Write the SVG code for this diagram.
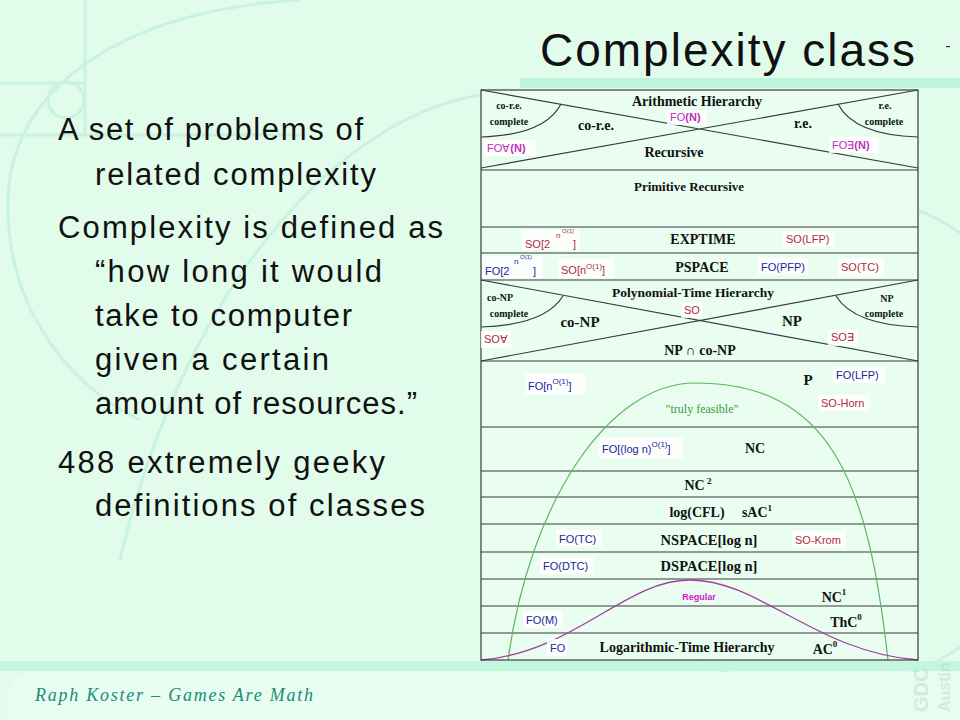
<svg xmlns="http://www.w3.org/2000/svg" width="960" height="720" viewBox="0 0 960 720">
<defs>
<style>
.deco{fill:none;stroke:#c8f3df;stroke-width:3}
.body{font-family:"Liberation Sans","DejaVu Sans",sans-serif;font-size:31px;fill:#111}
.grid{stroke:#3a3a3a;stroke-width:1.2;fill:none}
.blk{font-family:"Liberation Serif","DejaVu Serif",serif;font-weight:bold;fill:#111;text-anchor:middle}
.sm{font-family:"Liberation Serif","DejaVu Serif",serif;font-weight:bold;font-size:10px;fill:#111;text-anchor:middle}
.mag{font-family:"Liberation Sans",sans-serif;font-size:11px;fill:#c030b8}
.red{font-family:"Liberation Sans",sans-serif;font-size:11px;fill:#b02a3a}
.blu{font-family:"Liberation Sans",sans-serif;font-size:11px;fill:#25259a}
.s8{font-size:8px}
.s6{font-size:6px}
.pad{fill:#fff;opacity:0.85}
</style>
</defs>
<rect width="960" height="720" fill="#e2fcec"/>
<g id="decoration">
<path class="deco" d="M85,0 V135 M0,83 H85 M0,135 H300"/>
<circle class="deco" cx="66" cy="100" r="18"/>
<path class="deco" d="M300,0 C120,10 10,90 8,200 C6,300 60,380 140,420"/>
<path class="deco" d="M120,560 C180,300 330,120 480,95"/>
<circle class="deco" cx="820" cy="440" r="250" stroke-width="2"/>
<rect x="520" y="78" width="440" height="10" fill="#bff5dc"/>
<rect x="0" y="661" width="960" height="10" fill="#c4f6df"/>
<path d="M40,672 H960 V720 H8 V700 Q8,672 40,672 Z" fill="#e6fdef"/>
<text x="928" y="712" transform="rotate(-90 928 712)" font-family="Liberation Sans,sans-serif" font-weight="bold" font-size="20" fill="#b8c8c0" opacity="0.35">GDC</text>
<text x="950" y="712" transform="rotate(-90 950 712)" font-family="Liberation Sans,sans-serif" font-weight="bold" font-size="16" fill="#b8c8c0" opacity="0.35">Austin</text>
<rect x="946" y="46" width="4" height="1.2" fill="#333"/>
</g>
<g id="title">
<text x="540" y="66" font-family="Liberation Sans,sans-serif" font-size="46" fill="#111" textLength="375" lengthAdjust="spacing">Complexity class</text>
</g>
<g id="bullets">
<text class="body" x="58" y="140" textLength="305" lengthAdjust="spacing">A set of problems of</text>
<text class="body" x="95" y="185" textLength="281" lengthAdjust="spacing">related complexity</text>
<text class="body" x="58" y="238" textLength="385" lengthAdjust="spacing">Complexity is defined as</text>
<text class="body" x="95" y="282" textLength="287" lengthAdjust="spacing">“how long it would</text>
<text class="body" x="95" y="326" textLength="257" lengthAdjust="spacing">take to computer</text>
<text class="body" x="95" y="370" textLength="234" lengthAdjust="spacing">given a certain</text>
<text class="body" x="95" y="414" textLength="322" lengthAdjust="spacing">amount of resources.”</text>
<text class="body" x="58" y="473" textLength="327" lengthAdjust="spacing">488 extremely geeky</text>
<text class="body" x="95" y="516" textLength="330" lengthAdjust="spacing">definitions of classes</text>
</g>
<g id="footer">
<text x="35" y="701" font-family="Liberation Serif,serif" font-style="italic" font-size="18" fill="#1a8c7c" textLength="278" lengthAdjust="spacing">Raph Koster – Games Are Math</text>
</g>
<g id="diagram-frame">
<rect x="481" y="90" width="437" height="570" fill="#e9fdf1"/>
</g>
<g id="connectors">
<path class="grid" d="M481,90 L918,168 M918,90 L481,168"/>
<path class="grid" d="M481,137 Q545,135 561,104 M918,137 Q854,135 838,104"/>
<path class="grid" d="M481,280 L918,361 M918,280 L481,361"/>
<path class="grid" d="M481,327 Q545,325 563,296 M918,327 Q854,325 836,296"/>
<path class="grid" d="M481,170 H918 M481,227 H918 M481,253 H918 M481,280 H918 M481,361 H918 M481,427 H918 M481,471 H918 M481,497 H918 M481,524 H918 M481,552 H918 M481,579 H918 M481,606 H918 M481,633 H918"/>
<path d="M508,660 C530,500 610,383 695,383 C830,383 868,480 888,660" fill="none" stroke="#5cb85c" stroke-width="1.2"/>
<path d="M481,660 C575,652 625,580 690,580 C760,580 815,652 918,660" fill="none" stroke="#a040a0" stroke-width="1.3"/>
<rect class="grid" x="481" y="90" width="437" height="570"/>
</g>
<g id="arithmetic-hierarchy">
<text class="blk" x="697" y="106" font-size="14">Arithmetic Hierarchy</text>
<text class="sm" x="509" y="109">co-r.e.</text>
<text class="sm" x="509" y="125">complete</text>
<text class="blk" x="596" y="130" font-size="14">co-r.e.</text>
<rect class="pad" x="667" y="110" width="40" height="15"/>
<text class="mag" x="670" y="121">FO<tspan font-weight="bold">(N)</tspan></text>
<text class="blk" x="803" y="128" font-size="14">r.e.</text>
<text class="sm" x="885" y="109">r.e.</text>
<text class="sm" x="884" y="125">complete</text>
<rect class="pad" x="484" y="140" width="52" height="16"/>
<text class="mag" x="487" y="152">FO∀<tspan font-weight="bold">(N)</tspan></text>
<text class="blk" x="674" y="157" font-size="14">Recursive</text>
<rect class="pad" x="829" y="137" width="50" height="16"/>
<text class="mag" x="832" y="149">FO∃<tspan font-weight="bold">(N)</tspan></text>
</g>
<g id="primitive-recursive">
<text class="blk" x="689" y="191" font-size="13">Primitive Recursive</text>
</g>
<g id="exptime">
<rect class="pad" x="522" y="230" width="58" height="20"/>
<text class="red" x="525" y="248">SO[2</text>
<text class="red s8" x="556" y="238">n</text>
<text class="red s6" x="562" y="233">O(1)</text>
<text class="red" x="573" y="248">]</text>
<text class="blk" x="703" y="244" font-size="14">EXPTIME</text>
<rect class="pad" x="783" y="231" width="52" height="16"/>
<text class="red" x="786" y="243">SO(LFP)</text>
</g>
<g id="pspace">
<rect class="pad" x="482" y="256" width="60" height="22"/>
<text class="blu" x="485" y="275">FO[2</text>
<text class="blu s8" x="514" y="264">n</text>
<text class="blu s6" x="520" y="259">O(1)</text>
<text class="blu" x="533" y="275">]</text>
<rect class="pad" x="558" y="259" width="56" height="19"/>
<text class="red" x="561" y="274">SO[n<tspan dy="-5" font-size="8">O(1)</tspan><tspan dy="5">]</tspan></text>
<text class="blk" x="702" y="272" font-size="14">PSPACE</text>
<rect class="pad" x="758" y="258" width="50" height="17"/>
<text class="blu" x="761" y="271">FO(PFP)</text>
<rect class="pad" x="838" y="258" width="46" height="19"/>
<text class="red" x="841" y="271">SO(TC)</text>
</g>
<g id="polynomial-hierarchy">
<text class="blk" x="693" y="297" font-size="13.5">Polynomial-Time Hierarchy</text>
<text class="sm" x="500" y="301">co-NP</text>
<text class="sm" x="509" y="317">complete</text>
<text class="blk" x="580" y="327" font-size="15">co-NP</text>
<rect class="pad" x="681" y="303" width="22" height="15"/>
<text class="red" x="684" y="314">SO</text>
<text class="blk" x="792" y="326" font-size="15">NP</text>
<text class="sm" x="887" y="302">NP</text>
<text class="sm" x="884" y="317">complete</text>
<rect class="pad" x="481" y="331" width="30" height="17"/>
<text class="red" x="484" y="343">SO∀</text>
<rect class="pad" x="828" y="329" width="30" height="17"/>
<text class="red" x="831" y="341">SO∃</text>
<text class="blk" x="700" y="355" font-size="14">NP <tspan font-weight="normal">∩</tspan> co-NP</text>
</g>
<g id="p">
<rect class="pad" x="525" y="373" width="60" height="22"/>
<text class="blu" x="528" y="390">FO[n<tspan dy="-6" font-size="8">O(1)</tspan><tspan dy="6">]</tspan></text>
<text class="blk" x="808" y="385" font-size="15">P</text>
<rect class="pad" x="833" y="367" width="52" height="16"/>
<text class="blu" x="836" y="379">FO(LFP)</text>
<rect class="pad" x="818" y="395" width="52" height="16"/>
<text class="red" x="821" y="407">SO-Horn</text>
<text x="702" y="413" font-family="Liberation Serif,serif" font-size="12" fill="#3c9a3c" text-anchor="middle">"truly feasible"</text>
</g>
<g id="nc">
<rect class="pad" x="599" y="437" width="84" height="22"/>
<text class="blu" x="602" y="453">FO[(log n)<tspan dy="-6" font-size="8">O(1)</tspan><tspan dy="6">]</tspan></text>
<text class="blk" x="755" y="453" font-size="14">NC</text>
</g>
<g id="nc2">
<text class="blk" x="698" y="490" font-size="14">NC<tspan dy="-6" font-size="9"> 2</tspan></text>
</g>
<g id="logcfl">
<text class="blk" x="697" y="517" font-size="14">log(CFL)</text>
<text class="blk" x="757" y="517" font-size="14">sAC<tspan dy="-6" font-size="9">1</tspan></text>
</g>
<g id="nspace">
<rect class="pad" x="556" y="530" width="46" height="17"/>
<text class="blu" x="559" y="543">FO(TC)</text>
<text class="blk" x="709" y="545" font-size="14.5">NSPACE[log n]</text>
<rect class="pad" x="792" y="531" width="54" height="17"/>
<text class="red" x="795" y="544">SO-Krom</text>
</g>
<g id="dspace">
<rect class="pad" x="540" y="557" width="54" height="17"/>
<text class="blu" x="543" y="570">FO(DTC)</text>
<text class="blk" x="709" y="571" font-size="14.5">DSPACE[log n]</text>
</g>
<g id="nc1">
<text x="699" y="600" font-family="Liberation Sans,sans-serif" font-weight="bold" font-size="9" fill="#d020c8" text-anchor="middle">Regular</text>
<text class="blk" x="834" y="602" font-size="14">NC<tspan dy="-7" font-size="9">1</tspan></text>
</g>
<g id="thc0">
<rect class="pad" x="523" y="611" width="40" height="17"/>
<text class="blu" x="526" y="624">FO(M)</text>
<text class="blk" x="846" y="627" font-size="14">ThC<tspan dy="-7" font-size="9">0</tspan></text>
</g>
<g id="ac0">
<rect class="pad" x="547" y="639" width="20" height="17"/>
<text class="blu" x="550" y="652">FO</text>
<text class="blk" x="687" y="652" font-size="14">Logarithmic-Time Hierarchy</text>
<text class="blk" x="825" y="654" font-size="14">AC<tspan dy="-7" font-size="9">0</tspan></text>
</g>
</svg>
